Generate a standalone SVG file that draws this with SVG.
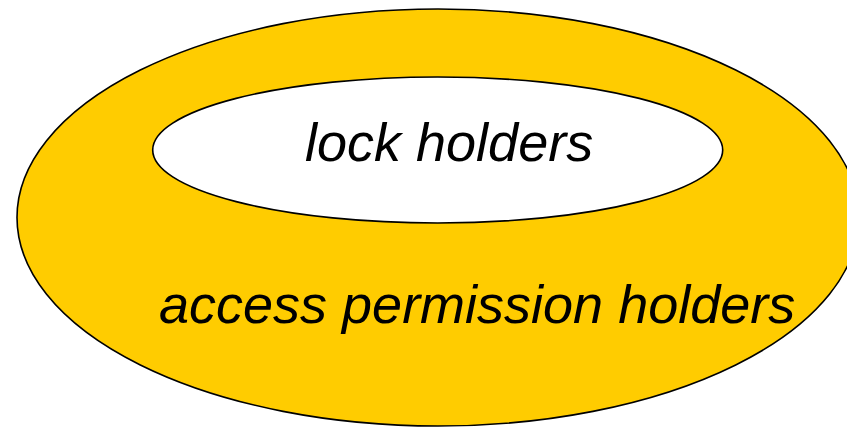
<svg xmlns="http://www.w3.org/2000/svg" width="847" height="427" viewBox="0 0 847 427">
  <style>
    .ring { stroke: #000000; stroke-width: 1.6; }
    .label { font-family: "Liberation Sans", Arial, sans-serif; font-style: italic; font-size: 54px; fill: #000000; }
  </style>
  <rect x="0" y="0" width="847" height="427" fill="#ffffff"/>
  <g id="access-permission-holders">
    <ellipse class="ring" cx="438" cy="217.5" rx="421" ry="208.5" fill="#ffcc00"/>
    <text class="label" x="159" y="323">access permission holders</text>
  </g>
  <g id="lock-holders">
    <ellipse class="ring" cx="437.7" cy="150" rx="285" ry="73" fill="#ffffff"/>
    <text class="label" x="305" y="160.5">lock holders</text>
  </g>
  <g id="connectors"></g>
</svg>
